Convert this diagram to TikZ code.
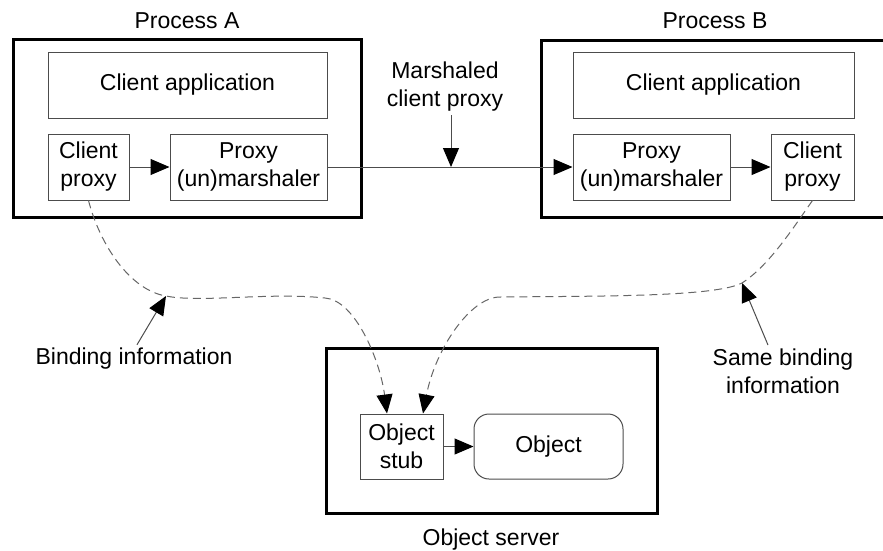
\documentclass[tikz,border=0pt]{standalone}
\usepackage{fontspec}
\setmainfont{Liberation Sans}
\usetikzlibrary{arrows.meta}

\begin{document}
\begin{tikzpicture}[x=1pt, y=-1pt, >={Triangle[length=19pt,width=16pt,color=black]},
  font=\fontsize{23}{28}\selectfont,
  proc/.style={draw, line width=3pt},
  part/.style={draw=black!70, line width=1pt, align=center, inner sep=0pt, minimum height=66pt},
  link/.style={black!70, line width=1pt, ->},
  bind/.style={black!60, line width=1pt, dash pattern=on 8pt off 5pt, ->}]
  \useasboundingbox (0,0) rectangle (883,550);
  \draw [proc] (13,39) rectangle (361,217);
  \draw [proc] (541,40) rectangle (900,217);
  \draw [proc] (326,348) rectangle (657,513);
  \node (titleA) at (187,21) {Process A};
  \node (titleB) at (715,21) {Process B};
  \node (titleO) at (491,540) {Object server};
  \node [part, minimum width=279pt] (appA) at (187.5,85) {Client application};
  \node [part, minimum width=81pt] (cproxyA) at (88.5,167) {Client\\proxy};
  \node [part, minimum width=157pt] (marshA) at (248.5,167) {Proxy\\(un)marshaler};
  \node [part, minimum width=281pt] (appB) at (713.5,85) {Client application};
  \node [part, minimum width=157pt] (marshB) at (651.5,167) {Proxy\\(un)marshaler};
  \node [part, minimum width=83pt] (cproxyB) at (812.5,167) {Client\\proxy};
  \node [part, minimum width=83pt, minimum height=65pt] (stub) at (401.5,446.5) {Object\\stub};
  \node [part, minimum width=149pt, minimum height=65pt, rounded corners=15pt] (obj) at (548.5,446.5) {Object};
  \node [align=center] (mlabel) at (445,87) {Marshaled\\client proxy};
  \node (blabelA) at (134,359) {Binding information};
  \node [align=center] (blabelB) at (783,371) {Same binding\\information};
  \coordinate (mpoint) at (451,167);
  \coordinate (bindA) at (166,296);
  \coordinate (bindB) at (742,283);
  \draw [link] (cproxyA) -- (marshA);
  \draw [link] (marshA) -- (marshB);
  \draw [link] (marshB) -- (cproxyB);
  \draw [link] (stub) -- (obj);
  \draw [link] (mlabel.south -| mpoint) -- (mpoint);
  \draw [link] ([xshift=3pt]blabelA.north) -- (bindA);
  \draw [link] ([xshift=-15pt]blabelB.north) -- (bindB);
  \draw [bind] (cproxyA.south) .. controls (100,245) and (130,290) .. (bindA)
    .. controls (200,303) and (270,292) .. (325,298)
    .. controls (355,300) and (380,360) .. ([xshift=-14.5pt]stub.north);
  \draw [bind] (cproxyB.south) .. controls (795,225) and (770,265) .. (bindB)
    .. controls (715,297) and (600,296) .. (500,297)
    .. controls (470,297) and (435,350) .. ([xshift=21.5pt]stub.north);
\end{tikzpicture}
\end{document}
